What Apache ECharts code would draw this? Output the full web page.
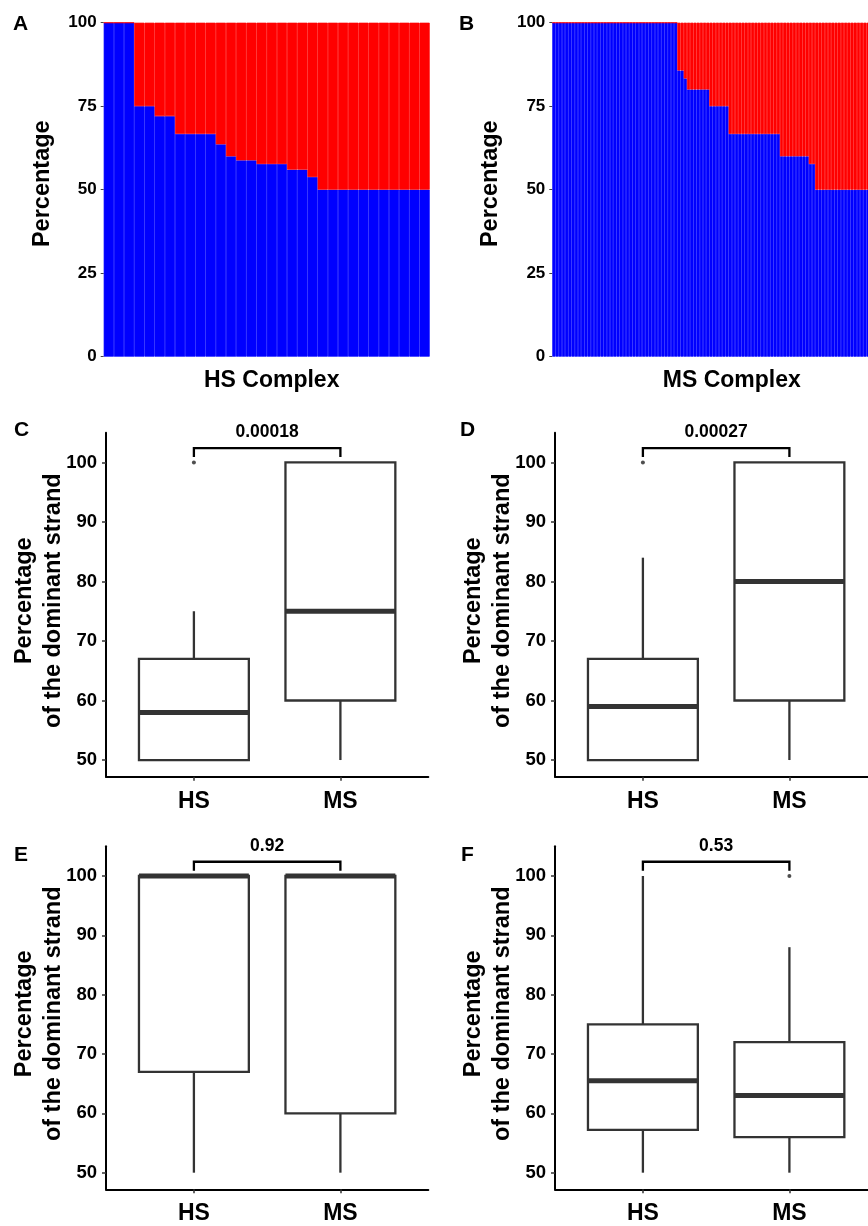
<!DOCTYPE html>
<html>
<head>
<meta charset="utf-8">
<script src="https://cdn.jsdelivr.net/npm/echarts@6/dist/echarts.min.js"></script>
<style>
html, body { margin: 0; padding: 0; background: #fff; }
#chart { width: 868px; height: 1226px; }
</style>
</head>
<body>
<div id="chart"></div>
<script>
// A / B : dominant strand share per complex (blue), the rest in red
var hsComplexBlue = [
    100, 100, 100, 75, 75, 72, 72, 66.7, 66.7, 66.7, 66.7, 63.6, 60, 58.8, 58.8, 57.7,
    57.7, 57.7, 56, 56, 53.8, 50, 50, 50, 50, 50, 50, 50, 50, 50, 50, 50
];
var msComplexBlue = [
    100, 100, 100, 100, 100, 100, 100, 100, 100, 100,
    100, 100, 100, 100, 100, 100, 100, 100, 100, 100,
    100, 100, 100, 100, 100, 100, 100, 100, 100, 100,
    100, 100, 100, 100, 100, 100, 100, 100, 100,
    85.7, 85.7, 83.3,
    80, 80, 80, 80, 80, 80, 80,
    75, 75, 75, 75, 75, 75,
    66.7, 66.7, 66.7, 66.7, 66.7, 66.7, 66.7, 66.7,
    66.7, 66.7, 66.7, 66.7, 66.7, 66.7, 66.7, 66.7,
    60, 60, 60, 60, 60, 60, 60, 60, 60,
    57.7, 57.7,
    50, 50, 50, 50, 50, 50, 50, 50, 50, 50,
    50, 50, 50, 50, 50, 50, 50, 50, 50, 50
];
var pctTicks = [0, 25, 50, 75, 100];

// C - F : boxplots, [min, Q1, median, Q3, max]
var groups = ['HS', 'MS'];
var boxC = [[50, 50, 58, 67, 75], [50, 60, 75, 100, 100]];
var boxD = [[50, 50, 59, 67, 84], [50, 60, 80, 100, 100]];
var boxE = [[50, 67, 100, 100, 100], [50, 60, 100, 100, 100]];
var boxF = [[50, 57.2, 65.5, 75, 100], [50, 56, 63, 72, 88]];
// outliers: [group position, value]
var outC = [[1, 100]];
var outD = [[1, 100]];
var outE = [];
var outF = [[2, 100]];
var pC = '0.00018', pD = '0.00027', pE = '0.92', pF = '0.53';
var boxTicks = [50, 60, 70, 80, 90, 100];

var FONT = "'Liberation Sans', Arial, sans-serif";
var dom = document.getElementById('chart');
var myChart = echarts.init(dom, null, { renderer: 'canvas' });

function renderBox(params, api) {
    var x = api.value(0);
    var lo = api.coord([x, api.value(1)]);
    var q1 = api.coord([x, api.value(2)]);
    var md = api.coord([x, api.value(3)]);
    var q3 = api.coord([x, api.value(4)]);
    var hi = api.coord([x, api.value(5)]);
    var left = api.coord([x - 0.375, 50])[0];
    var right = api.coord([x + 0.375, 50])[0];
    var cx = lo[0];
    var st = { stroke: '#333', lineWidth: 2.3 };
    return {
        type: 'group',
        children: [
            { type: 'line', shape: { x1: cx, y1: lo[1], x2: cx, y2: q1[1] }, style: st },
            { type: 'line', shape: { x1: cx, y1: q3[1], x2: cx, y2: hi[1] }, style: st },
            { type: 'rect', shape: { x: left, y: q3[1], width: right - left, height: q1[1] - q3[1] },
              style: { fill: '#fff', stroke: '#333', lineWidth: 2.3 } },
            { type: 'line', shape: { x1: left, y1: md[1], x2: right, y2: md[1] },
              style: { stroke: '#333', lineWidth: 5 } }
        ]
    };
}

function bracketRenderer(p) {
    return function (params, api) {
        var a = api.coord([api.value(0), api.value(3)]);
        var b = api.coord([api.value(0), api.value(2)]);
        var c = api.coord([api.value(1), api.value(2)]);
        var d = api.coord([api.value(1), api.value(3)]);
        return {
            type: 'group',
            children: [
                { type: 'polyline', shape: { points: [a, b, c, d] },
                  style: { stroke: '#000', lineWidth: 2.3, fill: null } },
                { type: 'text', x: (b[0] + c[0]) / 2, y: b[1] - 7,
                  style: { text: p, fill: '#000', font: 'bold 17.5px ' + FONT,
                           align: 'center', verticalAlign: 'bottom' } }
            ]
        };
    };
}

var grids = [
    { left: 103.7, top: 22.7, width: 326, height: 334 },
    { left: 552.3, top: 22.7, width: 327, height: 334 },
    { left: 106, top: 432.7, width: 322.3, height: 344 },
    { left: 555, top: 432.7, width: 322.3, height: 344 },
    { left: 106, top: 846.3, width: 322.3, height: 343 },
    { left: 555, top: 846.3, width: 322.3, height: 343 }
];
grids.forEach(function (g) { g.outerBoundsMode = 'none'; g.containLabel = false; });

function barX(idx, vals, name, pad) {
    return {
        type: 'category', gridIndex: idx,
        data: vals.map(function (v, i) { return String(i + 1); }),
        axisLine: { show: false }, axisTick: { show: false }, axisLabel: { show: false },
        name: name, nameLocation: 'middle', nameGap: 12, nameMoveOverlap: false,
        nameTextStyle: { fontSize: 23, fontWeight: 'bold', color: '#000', fontFamily: FONT, padding: [0, 0, 0, pad] }
    };
}
function barY(idx) {
    return {
        type: 'value', gridIndex: idx, min: 0, max: 100, interval: 25,
        axisLine: { show: false },
        axisTick: { show: true, length: 3, lineStyle: { color: '#444' } },
        axisLabel: { fontSize: 17, fontWeight: 'bold', color: '#000', fontFamily: FONT, margin: 7 },
        splitLine: { show: false },
        name: 'Percentage', nameLocation: 'middle', nameRotate: 90, nameGap: 47, nameMoveOverlap: false,
        nameTextStyle: { fontSize: 23.5, fontWeight: 'bold', color: '#000', fontFamily: FONT, lineHeight: 29, padding: [0, 0, 0, 12] }
    };
}
function boxX(idx) {
    return {
        type: 'value', gridIndex: idx, min: 0.4, max: 2.6,
        axisLine: { show: true, lineStyle: { color: '#000', width: 2 } },
        axisTick: { show: true, customValues: [1, 2], length: 4, lineStyle: { color: '#333', width: 1.5 } },
        axisLabel: { customValues: [1, 2], formatter: function (v) { return groups[Math.round(v) - 1]; },
                     fontSize: 23, fontWeight: 'bold', color: '#000', fontFamily: FONT, margin: 13 },
        splitLine: { show: false }
    };
}
function boxY(idx) {
    return {
        type: 'value', gridIndex: idx, min: 47.2, max: 105,
        axisLine: { show: true, lineStyle: { color: '#000', width: 2 } },
        axisTick: { show: true, customValues: boxTicks, length: 4, lineStyle: { color: '#333', width: 1.5 } },
        axisLabel: { customValues: boxTicks, fontSize: 18.5, fontWeight: 'bold', color: '#000', fontFamily: FONT, margin: 9 },
        splitLine: { show: false },
        name: 'Percentage\nof the dominant strand', nameLocation: 'middle', nameRotate: 90, nameGap: 38,
        nameMoveOverlap: false,
        nameTextStyle: { fontSize: 23.5, fontWeight: 'bold', color: '#000', fontFamily: FONT, lineHeight: 29,
                         align: 'center', padding: [0, 0, 0, 8] }
    };
}

function barSeries(idx, vals) {
    return [
        { type: 'bar', xAxisIndex: idx, yAxisIndex: idx, stack: 's' + idx, data: vals,
          barCategoryGap: '0%', silent: true,
          itemStyle: { color: '#0000ff', borderColor: '#0000ff', borderWidth: 0.7 } },
        { type: 'bar', xAxisIndex: idx, yAxisIndex: idx, stack: 's' + idx,
          data: vals.map(function (v) { return +(100 - v).toFixed(1); }),
          barCategoryGap: '0%', silent: true,
          itemStyle: { color: '#ff0000', borderColor: '#ff0000', borderWidth: 0.7 } }
    ];
}
function boxSeries(idx, boxes, outs, p) {
    return [
        { type: 'custom', xAxisIndex: idx, yAxisIndex: idx, renderItem: renderBox,
          encode: { x: 0, y: [1, 2, 3, 4, 5] },
          data: boxes.map(function (b, i) { return [i + 1].concat(b); }), silent: true },
        { type: 'scatter', xAxisIndex: idx, yAxisIndex: idx, data: outs, symbolSize: 4,
          itemStyle: { color: '#222' }, silent: true },
        { type: 'custom', xAxisIndex: idx, yAxisIndex: idx, renderItem: bracketRenderer(p),
          encode: { x: [0, 1], y: [2, 3] }, data: [[1, 2, 102.4, 100.9]], silent: true }
    ];
}

function letter(t, x, y) {
    return { text: t, left: x, top: y, padding: 0,
             textStyle: { fontSize: 21, fontWeight: 'bold', color: '#000', fontFamily: FONT } };
}

var option = {
    animation: false,
    textStyle: { fontFamily: FONT },
    title: [
        letter('A', 13, 14), letter('B', 459, 14),
        letter('C', 14, 420), letter('D', 460, 420),
        letter('E', 14, 845), letter('F', 461, 845)
    ],
    grid: grids,
    xAxis: [
        barX(0, hsComplexBlue, 'HS Complex', 10),
        barX(1, msComplexBlue, 'MS Complex', 32),
        boxX(2), boxX(3), boxX(4), boxX(5)
    ],
    yAxis: [barY(0), barY(1), boxY(2), boxY(3), boxY(4), boxY(5)],
    series: [].concat(
        barSeries(0, hsComplexBlue),
        barSeries(1, msComplexBlue),
        boxSeries(2, boxC, outC, pC),
        boxSeries(3, boxD, outD, pD),
        boxSeries(4, boxE, outE, pE),
        boxSeries(5, boxF, outF, pF)
    )
};

if (option && typeof option === 'object') {
    myChart.setOption(option, true);
}
</script>
</body>
</html>
